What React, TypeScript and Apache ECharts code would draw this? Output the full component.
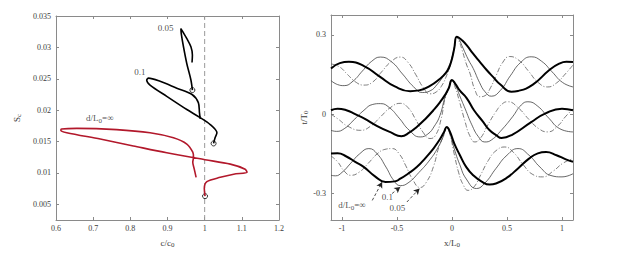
import React, { useEffect, useRef } from 'react';
import * as echarts from 'echarts';

// ---------- Left panel data (c/c0 vs S_c) ----------
const leftXTicks = [0.6, 0.7, 0.8, 0.9, 1, 1.1, 1.2];
const leftYTicks = [0.005, 0.01, 0.015, 0.02, 0.025, 0.03, 0.035];

const infC = [1.001, 0.999, 1.006, 1.042, 1.078, 1.114, 1.109, 1.069, 1.001, 0.898, 0.808, 0.719, 0.629, 0.613, 0.615, 0.656, 0.763, 0.853, 0.916, 0.952, 0.968, 0.97, 0.968, 0.972, 0.977];
const infS = [0.0063, 0.0075, 0.0086, 0.0093, 0.0098, 0.0101, 0.0106, 0.0114, 0.0121, 0.0132, 0.0143, 0.0154, 0.0164, 0.0168, 0.017, 0.0171, 0.0169, 0.0164, 0.0156, 0.0146, 0.0133, 0.0125, 0.0117, 0.0106, 0.0093];

const d01C = [1.024, 1.028, 1.033, 1.015, 0.988, 0.952, 0.898, 0.853, 0.844, 0.849, 0.88, 0.925, 0.966, 0.983, 0.986, 0.988];
const d01S = [0.0147, 0.0156, 0.0164, 0.0177, 0.0188, 0.0201, 0.0222, 0.024, 0.0248, 0.0251, 0.0246, 0.0235, 0.0225, 0.0212, 0.0196, 0.0186];

const d005C = [0.967, 0.963, 0.952, 0.943, 0.937, 0.936, 0.941, 0.952, 0.963, 0.967, 0.966];
const d005S = [0.0232, 0.0248, 0.0274, 0.0301, 0.0322, 0.033, 0.0325, 0.0314, 0.0301, 0.0288, 0.0276];

// ---------- Right panel data (x/L0 vs t/T0) ----------
const rightXTicks = [-1, -0.5, 0, 0.5, 1];
const rightYTicks = [-0.3, 0, 0.3];

// top group
const topInfX = [-1.1, -1.02, -0.937, -0.8, -0.66, -0.52, -0.38, -0.3, -0.2, -0.12, -0.048, -0.02, 0.0, 0.02, 0.042, 0.06, 0.09, 0.133, 0.19, 0.253, 0.313, 0.373, 0.44, 0.54, 0.6, 0.735, 0.885, 0.97, 1.04, 1.1];
const topInfY = [0.173, 0.193, 0.198, 0.182, 0.143, 0.105, 0.087, 0.09, 0.107, 0.13, 0.16, 0.183, 0.21, 0.248, 0.293, 0.29, 0.28, 0.261, 0.23, 0.198, 0.168, 0.141, 0.112, 0.085, 0.088, 0.112, 0.167, 0.19, 0.198, 0.197];
const top01X = [-1.1, -1.04, -0.98, -0.9, -0.815, -0.73, -0.65, -0.55, -0.45, -0.35, -0.27, -0.2, -0.13, -0.07, -0.03, 0.0, 0.02, 0.042, 0.06, 0.1, 0.15, 0.193, 0.25, 0.3, 0.358, 0.44, 0.53, 0.625, 0.72, 0.815, 0.91, 1.005, 1.1];
const top01Y = [0.127, 0.112, 0.108, 0.125, 0.163, 0.2, 0.216, 0.198, 0.152, 0.104, 0.082, 0.088, 0.115, 0.15, 0.18, 0.215, 0.25, 0.291, 0.286, 0.25, 0.205, 0.173, 0.12, 0.085, 0.068, 0.09, 0.145, 0.196, 0.217, 0.2, 0.16, 0.12, 0.103];
const top005X = [-1.1, -1.02, -0.95, -0.87, -0.8, -0.72, -0.64, -0.555, -0.47, -0.4, -0.33, -0.26, -0.2, -0.14, -0.09, -0.05, -0.02, 0.0, 0.02, 0.042, 0.06, 0.09, 0.13, 0.163, 0.21, 0.253, 0.3, 0.35, 0.4, 0.46, 0.524, 0.61, 0.697, 0.783, 0.87, 0.95, 1.03, 1.1];
const top005Y = [0.19, 0.178, 0.15, 0.12, 0.11, 0.122, 0.16, 0.198, 0.216, 0.196, 0.15, 0.1, 0.077, 0.085, 0.11, 0.145, 0.18, 0.21, 0.248, 0.29, 0.28, 0.245, 0.19, 0.155, 0.09, 0.066, 0.07, 0.1, 0.145, 0.195, 0.218, 0.203, 0.162, 0.12, 0.103, 0.118, 0.152, 0.186];

// middle group
const midInfX = [-1.1, -1.04, -0.96, -0.88, -0.8, -0.68, -0.56, -0.46, -0.39, -0.32, -0.24, -0.169, -0.11, -0.063, -0.03, 0.0, 0.03, 0.07, 0.133, 0.2, 0.283, 0.34, 0.404, 0.45, 0.55, 0.72, 0.85, 1.0, 1.1];
const midInfY = [0.015, 0.021, 0.015, 0.0, -0.016, -0.045, -0.068, -0.083, -0.07, -0.048, -0.017, 0.015, 0.045, 0.073, 0.098, 0.129, 0.115, 0.09, 0.061, 0.015, -0.029, -0.06, -0.08, -0.09, -0.077, -0.03, 0.003, 0.021, 0.015];
const mid01X = [-1.1, -1.05, -0.98, -0.9, -0.8, -0.72, -0.65, -0.57, -0.48, -0.39, -0.29, -0.22, -0.16, -0.11, -0.063, -0.03, 0.0, 0.03, 0.07, 0.12, 0.18, 0.24, 0.298, 0.36, 0.45, 0.55, 0.63, 0.69, 0.78, 0.88, 0.98, 1.1];
const mid01Y = [-0.061, -0.065, -0.055, -0.025, 0.015, 0.037, 0.04, 0.025, -0.015, -0.06, -0.086, -0.075, -0.045, -0.005, 0.065, 0.098, 0.127, 0.11, 0.07, 0.02, -0.04, -0.085, -0.105, -0.097, -0.06, -0.01, 0.035, 0.047, 0.03, -0.015, -0.055, -0.067];
const mid005X = [-1.1, -1.03, -0.95, -0.83, -0.74, -0.65, -0.56, -0.47, -0.4, -0.33, -0.26, -0.2, -0.15, -0.1, -0.063, -0.03, 0.0, 0.03, 0.07, 0.12, 0.16, 0.208, 0.26, 0.32, 0.4, 0.46, 0.509, 0.6, 0.7, 0.79, 0.87, 0.96, 1.03, 1.1];
const mid005Y = [0.0, -0.02, -0.045, -0.061, -0.045, -0.01, 0.025, 0.041, 0.025, -0.02, -0.07, -0.092, -0.08, -0.02, 0.06, 0.097, 0.126, 0.1, 0.045, -0.03, -0.08, -0.105, -0.09, -0.045, 0.01, 0.04, 0.047, 0.025, -0.02, -0.055, -0.067, -0.045, -0.01, 0.02];

// bottom group
const botInfX = [-1.1, -1.04, -0.96, -0.88, -0.8, -0.7, -0.605, -0.52, -0.47, -0.4, -0.32, -0.24, -0.169, -0.11, -0.07, -0.048, -0.02, 0.02, 0.072, 0.13, 0.193, 0.27, 0.343, 0.4, 0.5, 0.6, 0.7, 0.78, 0.855, 0.95, 1.03, 1.1];
const botInfY = [-0.149, -0.148, -0.16, -0.18, -0.2, -0.235, -0.256, -0.254, -0.244, -0.225, -0.2, -0.165, -0.13, -0.095, -0.065, -0.048, -0.065, -0.11, -0.155, -0.2, -0.231, -0.255, -0.266, -0.262, -0.24, -0.205, -0.168, -0.148, -0.143, -0.155, -0.17, -0.18];
const bot01X = [-1.1, -1.06, -1.0, -0.92, -0.84, -0.756, -0.68, -0.6, -0.53, -0.47, -0.4, -0.3, -0.2, -0.13, -0.08, -0.048, -0.02, 0.02, 0.07, 0.13, 0.223, 0.3, 0.4, 0.5, 0.6, 0.7, 0.8, 0.9, 1.0, 1.1];
const bot01Y = [-0.231, -0.233, -0.22, -0.185, -0.15, -0.13, -0.15, -0.2, -0.25, -0.27, -0.26, -0.22, -0.172, -0.128, -0.085, -0.05, -0.07, -0.13, -0.19, -0.245, -0.281, -0.26, -0.205, -0.155, -0.13, -0.155, -0.2, -0.232, -0.237, -0.225];
const bot005X = [-1.1, -1.04, -0.98, -0.92, -0.84, -0.76, -0.68, -0.61, -0.545, -0.48, -0.42, -0.36, -0.29, -0.23, -0.17, -0.12, -0.08, -0.048, -0.02, 0.02, 0.06, 0.1, 0.147, 0.2, 0.26, 0.33, 0.4, 0.48, 0.56, 0.645, 0.735, 0.825, 0.92, 1.01, 1.1];
const bot005Y = [-0.158, -0.18, -0.215, -0.231, -0.218, -0.185, -0.15, -0.133, -0.13, -0.15, -0.195, -0.245, -0.277, -0.255, -0.2, -0.125, -0.085, -0.052, -0.075, -0.15, -0.22, -0.265, -0.288, -0.275, -0.23, -0.175, -0.138, -0.124, -0.145, -0.19, -0.228, -0.237, -0.215, -0.185, -0.168];

// annotation arrows (from label toward trough), in data units
const arrowFrom = [[-0.725, -0.326], [-0.545, -0.3], [-0.41, -0.332]];
const arrowTo = [[-0.635, -0.256], [-0.47, -0.275], [-0.295, -0.281]];

const zip = (a: number[], b: number[]) => a.map((v, i) => [v, b[i]]);

const FONT = 'Liberation Serif';
const AX = '#8a8a8a';
const LBL = '#3c3c3c';

function App() {
  const ref = useRef<HTMLDivElement>(null);
  useEffect(() => {
    if (!ref.current) return;
    const chart = echarts.init(ref.current, null, { renderer: 'svg' });

    const mkX = (gi: number, min: number, max: number, ticks: number[], pos: 'bottom' | 'top', name?: any) => ({
      type: 'value', gridIndex: gi, min, max, position: pos,
      axisLine: { show: true, onZero: false, lineStyle: { color: AX, width: 1 } },
      axisTick: { show: true, inside: true, length: 3, customValues: ticks, lineStyle: { color: AX } },
      axisLabel: pos === 'bottom' ? { show: true, customValues: ticks, color: LBL, fontFamily: FONT, fontSize: 8, margin: 4 } : { show: false },
      splitLine: { show: false },
      ...(name || {}),
    });
    const mkY = (gi: number, min: number, max: number, ticks: number[], pos: 'left' | 'right', name?: any) => ({
      type: 'value', gridIndex: gi, min, max, position: pos,
      axisLine: { show: true, onZero: false, lineStyle: { color: AX, width: 1 } },
      axisTick: { show: true, inside: true, length: 3, customValues: ticks, lineStyle: { color: AX } },
      axisLabel: pos === 'left' ? { show: true, customValues: ticks, color: LBL, fontFamily: FONT, fontSize: 8, margin: 5 } : { show: false },
      splitLine: { show: false },
      ...(name || {}),
    });

    const subRich = { sub: { fontFamily: FONT, fontSize: 7, color: LBL, verticalAlign: 'bottom', padding: [4, 0, 0, 0] } };
    const nameStyle = { fontFamily: FONT, fontSize: 9, color: LBL, rich: subRich };

    const base = { type: 'line', xAxisIndex: 2, yAxisIndex: 2, showSymbol: false, smooth: 0.5, silent: true };
    const thick = (x: number[], y: number[]) => ({ ...base, data: zip(x, y), lineStyle: { color: '#000', width: 2 } });
    const thin = (x: number[], y: number[]) => ({ ...base, data: zip(x, y), lineStyle: { color: '#404040', width: 0.8 } });
    const dashdot = (x: number[], y: number[]) => ({ ...base, data: zip(x, y), lineStyle: { color: '#5a5a5a', width: 0.8, type: [5, 2, 1, 2] } });

    const labelSeries = (xi: number, pts: { v: number[]; t: string }[]) => ({
      type: 'scatter', xAxisIndex: xi, yAxisIndex: xi, symbolSize: 0, silent: true,
      data: pts.map((p) => ({
        value: p.v,
        label: {
          show: true, position: 'inside', formatter: p.t, color: '#222', fontFamily: FONT, fontSize: 9,
          rich: { sub: { fontFamily: FONT, fontSize: 7, color: '#222', padding: [5, 0, 0, 0] } },
        },
      })),
    });

    const option: any = {
      animation: false,
      grid: [
        { left: 56, top: 16, width: 223, height: 205 },
        { left: 331, top: 15, width: 242, height: 206 },
      ],
      xAxis: [
        mkX(0, 0.6, 1.2, leftXTicks, 'bottom', { name: 'c/c{sub|0}', nameLocation: 'middle', nameGap: 17, nameTextStyle: nameStyle }),
        mkX(0, 0.6, 1.2, leftXTicks, 'top'),
        mkX(1, -1.1, 1.1, rightXTicks, 'bottom', { name: 'x/L{sub|0}', nameLocation: 'middle', nameGap: 17, nameTextStyle: nameStyle }),
        mkX(1, -1.1, 1.1, rightXTicks, 'top'),
      ],
      yAxis: [
        mkY(0, 0.0025, 0.035, leftYTicks, 'left', { name: 'S{sub|c}', nameLocation: 'middle', nameGap: 34, nameRotate: 90, nameTextStyle: nameStyle }),
        mkY(0, 0.0025, 0.035, leftYTicks, 'right'),
        mkY(1, -0.4, 0.375, rightYTicks, 'left', { name: 't/T{sub|0}', nameLocation: 'middle', nameGap: 22, nameRotate: 90, nameTextStyle: nameStyle }),
        mkY(1, -0.4, 0.375, rightYTicks, 'right'),
      ],
      series: [
        // left panel
        {
          type: 'line', xAxisIndex: 0, yAxisIndex: 0, data: [[1, 0.0025], [1, 0.035]], showSymbol: false,
          lineStyle: { color: '#999', width: 1, type: [5, 3] }, silent: true,
        },
        { type: 'line', xAxisIndex: 0, yAxisIndex: 0, data: zip(infC, infS), showSymbol: false, smooth: 0.3, lineStyle: { color: '#B2182B', width: 1.6 }, silent: true },
        { type: 'line', xAxisIndex: 0, yAxisIndex: 0, data: zip(d01C, d01S), showSymbol: false, smooth: 0.3, lineStyle: { color: '#000', width: 1.6 }, silent: true },
        { type: 'line', xAxisIndex: 0, yAxisIndex: 0, data: zip(d005C, d005S), showSymbol: false, smooth: 0.3, lineStyle: { color: '#000', width: 1.6 }, silent: true },
        {
          type: 'scatter', xAxisIndex: 0, yAxisIndex: 0, symbol: 'circle', symbolSize: 5, silent: true,
          itemStyle: { color: '#fff', borderColor: '#000', borderWidth: 1 },
          data: [[infC[0], infS[0]], [d01C[0], d01S[0]], [d005C[0], d005S[0]]],
        },
        labelSeries(0, [
          { v: [0.895, 0.0331], t: '0.05' },
          { v: [0.826, 0.026], t: '0.1' },
          { v: [0.718, 0.0187], t: 'd/L{sub|0}=∞' },
        ]),
        // right panel
        dashdot(top005X, top005Y), thin(top01X, top01Y), thick(topInfX, topInfY),
        dashdot(mid005X, mid005Y), thin(mid01X, mid01Y), thick(midInfX, midInfY),
        dashdot(bot005X, bot005Y), thin(bot01X, bot01Y), thick(botInfX, botInfY),
        {
          type: 'line', xAxisIndex: 2, yAxisIndex: 2, data: [], silent: true,
          markLine: {
            silent: true, symbol: ['none', 'arrow'], symbolSize: [5, 6], label: { show: false },
            lineStyle: { color: '#222', width: 0.8, type: [3, 2] },
            data: arrowFrom.map((f, i) => [{ coord: f }, { coord: arrowTo[i] }]),
          },
        },
        labelSeries(2, [
          { v: [-0.91, -0.345], t: 'd/L{sub|0}=∞' },
          { v: [-0.587, -0.314], t: '0.1' },
          { v: [-0.497, -0.356], t: '0.05' },
        ]),
      ],
    };
    chart.setOption(option);
    return () => chart.dispose();
  }, []);
  return <div ref={ref} style={{ position: 'fixed', left: 0, top: 0, width: 617, height: 253, background: '#fff' }} />;
}

export default App;
